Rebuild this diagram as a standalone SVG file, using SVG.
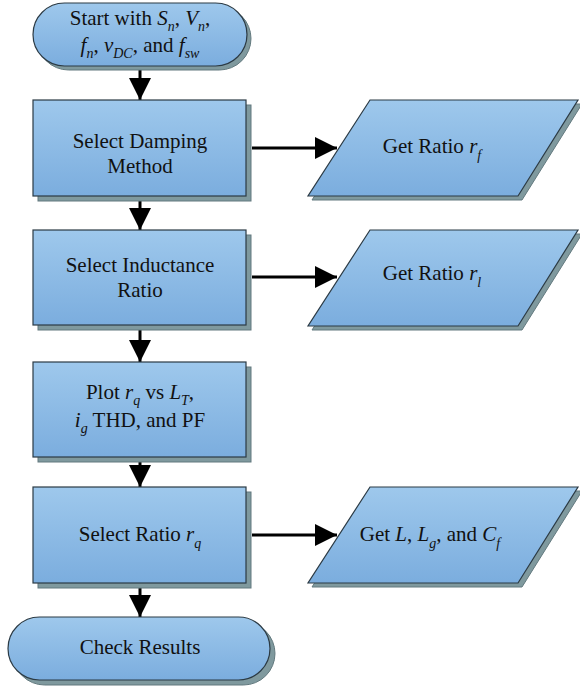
<svg xmlns="http://www.w3.org/2000/svg" width="580" height="687" viewBox="0 0 580 687">
<defs>
<linearGradient id="g" x1="0" y1="0" x2="0" y2="1">
<stop offset="0" stop-color="#9ec8ec"/>
<stop offset="1" stop-color="#7badde"/>
</linearGradient>
<marker id="ah" markerUnits="userSpaceOnUse" markerWidth="24" markerHeight="22" refX="22" refY="11" orient="auto" viewBox="0 0 24 22">
<path d="M0,0 L22,11 L0,22 z" fill="#000"/>
</marker>
<style>
.sh{fill:#7f999e;stroke:#62797e;stroke-width:1}
.sp{fill:url(#g);stroke:#2b3a44;stroke-width:1.2}
text{font-family:'Liberation Serif','DejaVu Serif',serif;font-size:21px;fill:#111;text-anchor:middle}
.i{font-style:italic}
.s{font-size:14px;font-style:italic}
.c{stroke:#000;stroke-width:3;fill:none;marker-end:url(#ah)}
</style>
</defs>

<g id="connectors">
<line class="c" x1="140" y1="67" x2="140" y2="100"/>
<line class="c" x1="140" y1="197" x2="140" y2="230"/>
<line class="c" x1="140" y1="326" x2="140" y2="362"/>
<line class="c" x1="140" y1="458" x2="140" y2="487"/>
<line class="c" x1="140" y1="584" x2="140" y2="617"/>
<line class="c" x1="252" y1="148" x2="337" y2="148"/>
<line class="c" x1="252" y1="277" x2="337" y2="277"/>
<line class="c" x1="252" y1="535" x2="337" y2="535"/>
</g>

<g id="start">
<rect class="sh" x="37" y="7" width="214" height="63" rx="31.5"/>
<rect class="sp" x="33" y="3" width="214" height="63" rx="31.5"/>
<text x="140" y="25">Start with <tspan class="i">S</tspan><tspan class="s" dy="6">n</tspan><tspan dy="-6">, </tspan><tspan class="i">V</tspan><tspan class="s" dy="6">n</tspan><tspan dy="-6">,</tspan></text>
<text x="140" y="52"><tspan class="i">f</tspan><tspan class="s" dy="6">n</tspan><tspan dy="-6">, </tspan><tspan class="i">v</tspan><tspan class="s" dy="6">DC</tspan><tspan dy="-6">, and </tspan><tspan class="i">f</tspan><tspan class="s" dy="6">sw</tspan></text>
</g>

<g id="damping">
<rect class="sh" x="38" y="105" width="213" height="96"/>
<rect class="sp" x="33" y="100" width="213" height="96"/>
<text x="140" y="148">Select Damping</text>
<text x="140" y="173">Method</text>
</g>

<g id="ratio-rf">
<polygon class="sh" points="374,104 582,104 522,200 312,200"/>
<polygon class="sp" points="370,100 578,100 518,196 308,196"/>
<text x="432" y="153">Get Ratio <tspan class="i">r</tspan><tspan class="s" dy="7">f</tspan></text>
</g>

<g id="inductance">
<rect class="sh" x="38" y="235" width="213" height="95"/>
<rect class="sp" x="33" y="230" width="213" height="95"/>
<text x="140" y="272">Select Inductance</text>
<text x="140" y="297">Ratio</text>
</g>

<g id="ratio-rl">
<polygon class="sh" points="374,234 582,234 522,330 312,330"/>
<polygon class="sp" points="370,230 578,230 518,326 308,326"/>
<text x="432" y="280">Get Ratio <tspan class="i">r</tspan><tspan class="s" dy="7">l</tspan></text>
</g>

<g id="plot">
<rect class="sh" x="38" y="367" width="213" height="95"/>
<rect class="sp" x="33" y="362" width="213" height="95"/>
<text x="140" y="399">Plot <tspan class="i">r</tspan><tspan class="s" dy="6">q</tspan><tspan dy="-6"> vs </tspan><tspan class="i">L</tspan><tspan class="s" dy="6">T</tspan><tspan dy="-6">,</tspan></text>
<text x="140" y="427"><tspan class="i">i</tspan><tspan class="s" dy="6">g</tspan><tspan dy="-6"> THD, and PF</tspan></text>
</g>

<g id="select-rq">
<rect class="sh" x="38" y="492" width="213" height="96"/>
<rect class="sp" x="33" y="487" width="213" height="96"/>
<text x="140" y="541">Select Ratio <tspan class="i">r</tspan><tspan class="s" dy="7">q</tspan></text>
</g>

<g id="get-l">
<polygon class="sh" points="374,491 582,491 522,587 312,587"/>
<polygon class="sp" points="370,487 578,487 518,583 308,583"/>
<text x="430" y="541">Get <tspan class="i">L</tspan>, <tspan class="i">L</tspan><tspan class="s" dy="7">g</tspan><tspan dy="-7">, and </tspan><tspan class="i">C</tspan><tspan class="s" dy="7">f</tspan></text>
</g>

<g id="check">
<rect class="sh" x="13" y="622" width="262" height="63" rx="31.5"/>
<rect class="sp" x="8" y="617" width="262" height="63" rx="31.5"/>
<text x="140" y="654">Check Results</text>
</g>
</svg>
